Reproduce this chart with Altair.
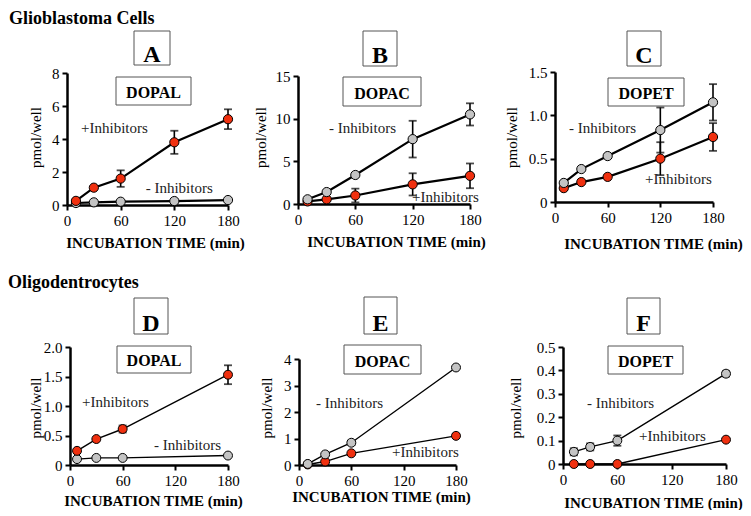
import altair as alt
import pandas as pd

FONT = "Liberation Serif"
RED = "#f0300f"
GRAY = "#c4c4c4"
PLUS = "+Inhibitors"
MINUS = "- Inhibitors"

# ---------------- data ----------------
# Panel A  Glioblastoma  DOPAL
A_t = [10, 30, 60, 120, 180]
A_plus = [0.25, 1.05, 1.6, 3.8, 5.2]
A_plus_err = [0, 0, 0.5, 0.7, 0.6]
A_minus = [0.12, 0.16, 0.2, 0.24, 0.3]
A_minus_err = [0, 0, 0, 0, 0]
# Panel B  Glioblastoma  DOPAC
B_t = [10, 30, 60, 120, 180]
B_minus = [0.55, 1.4, 3.4, 7.6, 10.5]
B_minus_err = [0, 0, 0, 2.15, 1.3]
B_plus = [0.3, 0.55, 1.0, 2.3, 3.3]
B_plus_err = [0, 0, 0.8, 1.3, 1.45]
# Panel C  Glioblastoma  DOPET
C_t = [10, 30, 60, 120, 180]
C_minus = [0.22, 0.38, 0.53, 0.83, 1.15]
C_minus_err = [0, 0, 0, 0.26, 0.21]
C_plus = [0.16, 0.23, 0.29, 0.50, 0.75]
C_plus_err = [0.02, 0, 0, 0.19, 0.16]
# Panel D  Oligodendrocytes  DOPAL
D_t = [8, 30, 60, 180]
D_plus = [0.24, 0.44, 0.61, 1.53]
D_plus_err = [0, 0, 0.06, 0.16]
D_minus = [0.10, 0.12, 0.12, 0.16]
D_minus_err = [0, 0, 0, 0]
# Panel E  Oligodendrocytes  DOPAC
E_t = [10, 30, 60, 180]
E_minus = [0.04, 0.4, 0.84, 3.68]
E_minus_err = [0, 0, 0.08, 0]
E_plus = [0.02, 0.13, 0.44, 1.1]
E_plus_err = [0, 0, 0, 0.08]
# Panel F  Oligodendrocytes  DOPET
F_t = [12, 30, 60, 180]
F_minus = [0.052, 0.073, 0.10, 0.386]
F_minus_err = [0.015, 0.015, 0.022, 0.012]
F_plus = [0, 0, 0, 0.104]
F_plus_err = [0, 0, 0, 0]

X_TICKS = [0, 60, 120, 180]
ROW_TITLES = ["Glioblastoma Cells", "Oligodentrocytes"]

# series label positions (data coords: time, value)
A_lab = [(15.7, 4.36, PLUS), (88, 0.72, MINUS)]
B_lab = [(32.4, 8.36, MINUS), (119.3, 0.27, PLUS)]
C_lab = [(16, 0.80, MINUS), (102.5, 0.208, PLUS)]
D_lab = [(13.7, 0.98, PLUS), (95.7, 0.254, MINUS)]
E_lab = [(19.5, 2.14, MINUS), (106.6, 0.29, PLUS)]
F_lab = [(26.5, 0.238, MINUS), (84, 0.0996, PLUS)]

# ---------------- layout (page pixels) ----------------
COL_LEFT = [67, 228, 470]
COL_W = [161, 242, 256]
ROW_TOP = [72, 347]
ROW_H = [133, 118]


def one():
    return alt.Chart(pd.DataFrame({"d": [0]}))


def panel(letter, name, t, series, labels, ymax, yticks, yfmt, g):
    col, row = g["col"], g["row"]
    CL, RT, H = COL_LEFT[col], ROW_TOP[row], ROW_H[row]
    gx = g["pl"] - CL
    rows = []
    for s, vals, errs in series:  # later series drawn on top
        for ti, v, e in zip(t, vals, errs):
            rows.append(dict(t=ti, v=v, lo=v - e, hi=v + e, e=e, s=s))
    df = pd.DataFrame(rows)
    edf = df[df.e > 0]
    ldf = pd.DataFrame(labels, columns=["t", "v", "txt"])

    xs = alt.Scale(domain=[0, 180], range=[gx, gx + g["w"]], nice=False, zero=False)
    ys = alt.Scale(domain=[0, ymax], range=[g["bot"] - RT, g["top"] - RT], nice=False,
                   zero=False)
    xa = alt.Axis(values=X_TICKS, title="INCUBATION TIME (min)", titleFontWeight="bold",
                  titleFontSize=15, titleX=g["xt"][0] - CL, titleY=g["xt"][1] - g["bot"],
                  titleBaseline="alphabetic", titleAlign="center", labelFlush=False,
                  offset=g["bot"] - RT - H)
    ya = alt.Axis(values=yticks, labelExpr=yfmt, title="pmol/well", titleFontSize=15,
                  titleFontWeight="normal", titleX=g["yt"][0] - g["pl"], titleY=g["yt"][1] - RT,
                  titleBaseline="alphabetic", titleAlign="center", labelFlush=False,
                  offset=-gx)
    X = alt.X("t:Q", scale=xs, axis=xa)

    def Y(f):
        return alt.Y(f, scale=ys, axis=ya)

    lw = g["lw"]
    lines = alt.Chart(df).mark_line(color="black", strokeWidth=lw).encode(
        x=X, y=Y("v:Q"), detail="s:N")
    err = alt.Chart(edf).mark_rule(color="black", strokeWidth=1.6).encode(
        x=X, y=Y("lo:Q"), y2="hi:Q")
    cap1 = alt.Chart(edf).mark_tick(orient="horizontal", color="black", size=8,
                                     thickness=1.8).encode(x=X, y=Y("lo:Q"))
    cap2 = alt.Chart(edf).mark_tick(orient="horizontal", color="black", size=8,
                                     thickness=1.8).encode(x=X, y=Y("hi:Q"))
    pts = alt.Chart(df).mark_point(filled=True, shape="circle", size=g["ms"], stroke="black",
                                   strokeWidth=1, opacity=1).encode(
        x=X, y=Y("v:Q"),
        fill=alt.Fill("s:N", scale=alt.Scale(domain=[PLUS, MINUS], range=[RED, GRAY]),
                      legend=None))
    labs = alt.Chart(ldf).mark_text(align="left", baseline="alphabetic", font=FONT,
                                    fontSize=15, color="#222").encode(
        x=X, y=Y("v:Q"), text="txt:N")

    def box(b, txt, size, base_off):
        x1, x2, y1, y2 = b[0] - CL, b[1] - CL, b[2] - RT, b[3] - RT
        r = one().mark_rect(fill="white", stroke="#555", strokeWidth=1).encode(
            x=alt.value(x1), x2=alt.value(x2), y=alt.value(y1), y2=alt.value(y2))
        tx = one().mark_text(align="center", baseline="alphabetic", font=FONT,
                             fontSize=size, fontWeight="bold", color="black").encode(
            x=alt.value((x1 + x2) / 2), y=alt.value(y2 - base_off), text=alt.value(txt))
        return [r, tx]

    layers = box(g["lbox"], letter, 24, 3.5) + box(g["nbox"], name, 16, 7.5) + [
        lines, err, cap1, cap2, pts, labs]
    if "anchor" in g:
        ax, ay = g["anchor"]
        layers.append(one().mark_rect(opacity=0).encode(
            x=alt.value(ax - CL), x2=alt.value(ax - CL + 1),
            y=alt.value(ay - RT), y2=alt.value(ay - RT + 1)))
    if "title" in g:
        tx, ty, tt = g["title"]
        layers.append(one().mark_text(align="left", baseline="top", font=FONT,
                                      fontSize=18, fontWeight="bold", color="black").encode(
            x=alt.value(tx - CL), y=alt.value(ty - RT), text=alt.value(tt)))
    return alt.layer(*layers).properties(width=COL_W[col], height=H)


fmt_int = "format(datum.value, 'd')"
fmt_1 = "datum.value == 0 ? '0' : format(datum.value, '.1f')"

pA = panel("A", "DOPAL", A_t, [(MINUS, A_minus, A_minus_err), (PLUS, A_plus, A_plus_err)],
           A_lab, 8, [0, 2, 4, 6, 8], fmt_int,
           dict(col=0, row=0, pl=67, w=161, top=73, bot=205, xt=(155, 247), yt=(40, 137),
                lw=2.2, ms=85, lbox=(134, 170, 31, 65), nbox=(116, 191, 77, 105),
                title=(9, 10, ROW_TITLES[0]), anchor=(8, 8)))
pB = panel("B", "DOPAC", B_t, [(PLUS, B_plus, B_plus_err), (MINUS, B_minus, B_minus_err)],
           B_lab, 15, [0, 5, 10, 15], fmt_int,
           dict(col=1, row=0, pl=298, w=172, top=76, bot=204, xt=(396, 246), yt=(265, 137),
                lw=2.2, ms=85, lbox=(363, 397, 31, 66), nbox=(343, 421, 77, 106)))
pC = panel("C", "DOPET", C_t, [(PLUS, C_plus, C_plus_err), (MINUS, C_minus, C_minus_err)],
           C_lab, 1.5, [0, 0.5, 1.0, 1.5], fmt_1,
           dict(col=2, row=0, pl=555, w=158, top=72, bot=202, xt=(653, 248), yt=(516, 137),
                lw=2.2, ms=85, lbox=(627, 661, 31, 66), nbox=(608, 684, 78, 106)))
pD = panel("D", "DOPAL", D_t, [(MINUS, D_minus, D_minus_err), (PLUS, D_plus, D_plus_err)],
           D_lab, 2.0, [0, 0.5, 1.0, 1.5, 2.0], fmt_1,
           dict(col=0, row=1, pl=70, w=158, top=347, bot=465, xt=(153, 505), yt=(40, 407.5),
                lw=1.4, ms=80, lbox=(134, 168, 298, 334), nbox=(117, 191, 346, 373),
                title=(8, 274, ROW_TITLES[1])))
pE = panel("E", "DOPAC", E_t, [(PLUS, E_plus, E_plus_err), (MINUS, E_minus, E_minus_err)],
           E_lab, 4, [0, 1, 2, 3, 4], fmt_int,
           dict(col=1, row=1, pl=299, w=157, top=359, bot=465, xt=(381, 501), yt=(271, 407.5),
                lw=1.4, ms=80, lbox=(364, 397, 297, 334), nbox=(344, 421, 345, 374)))
pF = panel("F", "DOPET", F_t, [(PLUS, F_plus, F_plus_err), (MINUS, F_minus, F_minus_err)],
           F_lab, 0.5, [0, 0.1, 0.2, 0.3, 0.4, 0.5], fmt_1,
           dict(col=2, row=1, pl=563, w=163, top=347, bot=464, xt=(653, 507), yt=(520, 407.5),
                lw=1.4, ms=80, lbox=(627, 660, 298, 334), nbox=(608, 683, 346, 374)))

chart = alt.concat(pA, pB, pC, pD, pE, pF, columns=3,
                   spacing=alt.RowColnumber(row=ROW_TOP[1] - ROW_TOP[0] - ROW_H[0], column=0),
                   bounds="flush", align="each").properties(padding=0).configure_view(
    stroke=None).configure_axis(
    domainColor="black", domainWidth=2.5, tickColor="black", tickWidth=2, tickSize=5,
    labelFont=FONT, labelFontSize=15, labelColor="black", labelPadding=3,
    titleFont=FONT, titleColor="black", grid=False)

chart.save("out.html", embed_options={"renderer": "svg", "actions": False})
